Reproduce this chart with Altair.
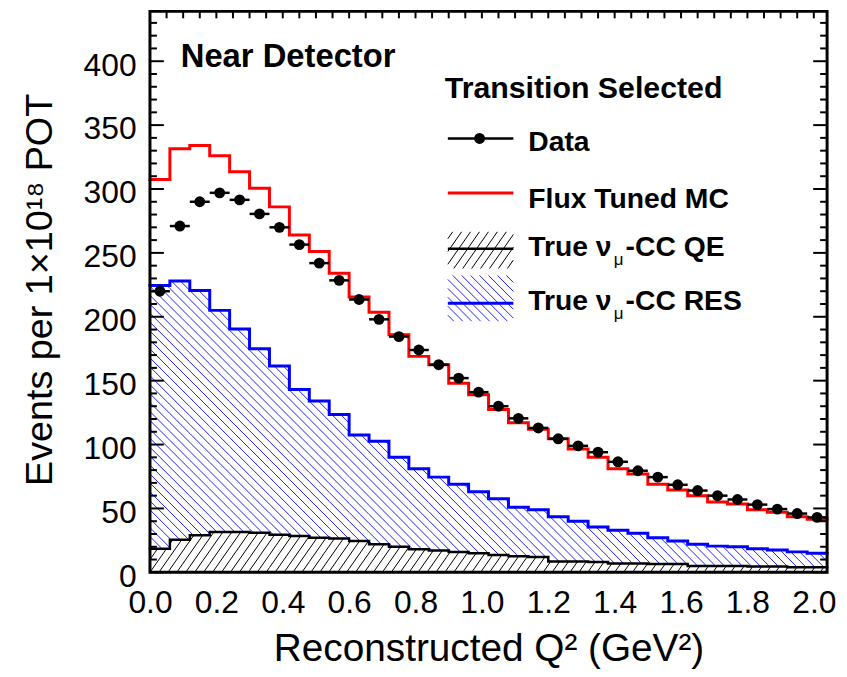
import altair as alt
import numpy as np
import pandas as pd

# ---------------- data ----------------
bin_low = [round(0.06 * i, 2) for i in range(34)]
BIN_W = 0.06
X_MAX = 2.04
Y_MAX = 439

data_counts = [220, 271, 290, 297, 291.5, 280.5, 270, 256.5, 242, 228.5, 213.5, 198,
               184.5, 174, 162.5, 152, 141, 130, 120.5, 113, 104.5, 99, 94, 86.5,
               79.5, 74.5, 68.5, 64, 60, 57, 53, 49.5, 46, 43]
mc_counts = [307.5, 331.5, 334, 326, 313.5, 300.5, 286, 264, 251, 234, 215.5, 203.5,
             186, 169, 162.5, 148, 139, 127.5, 117, 112, 104.5, 96.5, 90, 81,
             77, 69, 64.5, 60, 55, 53.5, 49, 47, 43.5, 41.5]
res_counts = [224.5, 228, 220.5, 205, 190.5, 175, 161.5, 143, 134, 123.5, 107.5, 102.5,
              90, 81, 74.5, 69, 63, 57.5, 51, 49, 43.5, 40, 35.5, 33,
              30.5, 27, 24.5, 22, 20.5, 20, 18.5, 17.5, 16, 15]
qe_counts = [18.5, 25.5, 29, 31.5, 31.5, 31, 29.5, 28.5, 27, 26.5, 24.5, 22,
             20, 18, 17, 16, 15, 13.5, 12.5, 12, 8.5, 8.5, 8, 7,
             7, 6.5, 6.5, 5, 5, 5, 4.5, 4.5, 4, 4]

x_tick_labels = [0.0, 0.2, 0.4, 0.6, 0.8, 1.0, 1.2, 1.4, 1.6, 1.8, 2.0]
y_tick_labels = [0, 50, 100, 150, 200, 250, 300, 350, 400]
x_minor = [round(0.05 * i, 2) for i in range(41)]
y_minor = list(range(0, 440, 10))

legend_header = "Transition Selected"
panel_label = "Near Detector"

# ---------------- layout ----------------
W, H = 682, 565
KX = W / X_MAX
KY = H / Y_MAX
FONT = "Liberation Sans"

edges = bin_low + [X_MAX]

xs = alt.Scale(domain=[0, X_MAX], nice=False, zero=False)
ys = alt.Scale(domain=[0, Y_MAX], nice=False)

X_AX = alt.Axis(values=x_tick_labels, format=".1f", ticks=False, tickSize=0, domain=False,
                grid=False, labelFontSize=32, labelFont=FONT, labelColor="black",
                labelPadding=15, labelFlush=False, labelOverlap=False,
                title="Reconstructed Q² (GeV²)", titleFont=FONT, titleFontSize=39,
                titleFontWeight="normal", titleColor="black", titleX=W / 2, titleY=89,
                titleAlign="center", titleBaseline="alphabetic")
Y_AX = alt.Axis(values=y_tick_labels, format="d", ticks=False, tickSize=0, domain=False,
                grid=False, labelFontSize=32, labelFont=FONT, labelColor="black",
                labelPadding=14, labelOffset=4, labelFlush=False, labelOverlap=False,
                title="Events per 1×10¹⁸ POT", titleFont=FONT, titleFontSize=38,
                titleFontWeight="normal", titleColor="black", titleX=-99, titleY=280,
                titleAngle=270, titleAlign="center", titleBaseline="alphabetic")


def X(field):
    return alt.X(field, type="quantitative", scale=xs, axis=X_AX)


def Y(field):
    return alt.Y(field, type="quantitative", scale=ys, axis=Y_AX)


def steps(vals):
    return pd.DataFrame({"x": edges, "y": list(vals) + [vals[-1]]})


def hatch_segments(lefts, rights, heights, spacing, angle, slope_sign):
    s = slope_sign * np.tan(np.radians(angle))
    vmax = max(heights)
    u_start = min(lefts) - vmax / abs(s) - spacing
    u_end = max(rights) + vmax / abs(s) + spacing
    u0s = np.arange(np.floor(u_start / spacing) * spacing, u_end, spacing)
    segs = []
    for ua, ub, vh in zip(lefts, rights, heights):
        for u0 in u0s:
            if s > 0:
                lo, hi = u0, u0 + vh / s
            else:
                lo, hi = u0 + vh / s, u0
            a, b = max(lo, ua), min(hi, ub)
            if b - a > 1e-9:
                segs.append((a, s * (a - u0), b, s * (b - u0)))
    return segs


def hist_hatch(vals, spacing, angle, sign):
    lefts = [e * KX for e in edges[:-1]]
    rights = [e * KX for e in edges[1:]]
    heights = [v * KY for v in vals]
    segs = hatch_segments(lefts, rights, heights, spacing, angle, sign)
    return pd.DataFrame([{"x": a / KX, "y": va / KY, "x2": b / KX, "y2": vb / KY}
                         for a, va, b, vb in segs])


def box_hatch(x0, x1, ytop, ybot, spacing, angle, sign):
    segs = hatch_segments([x0], [x1], [ybot - ytop], spacing, angle, sign)
    rows = []
    for a, va, b, vb in segs:
        rows.append({"x": a / KX, "y": (H - (ybot - va)) / KY,
                     "x2": b / KX, "y2": (H - (ybot - vb)) / KY})
    return pd.DataFrame(rows)


def rules(df, color, width=1):
    return alt.Chart(df).mark_rule(color=color, strokeWidth=width).encode(
        x=X("x"), y=Y("y"), x2="x2:Q", y2="y2:Q")


def step_line(vals, color, width):
    return alt.Chart(steps(vals)).mark_line(
        interpolate="step-after", color=color, strokeWidth=width,
        strokeJoin="miter", strokeCap="square").encode(x=X("x"), y=Y("y"))


one = pd.DataFrame({"k": [0]})

# ---------------- histogram layers ----------------
res_hatch = rules(hist_hatch(res_counts, 9, 45, -1), "#2020ff", 1)
res_line = step_line(res_counts, "#0000ff", 3)
qe_white = alt.Chart(steps(qe_counts)).mark_area(
    interpolate="step-after", color="white", opacity=1).encode(
    x=X("x"), y=Y("y"), y2=alt.datum(0))
qe_hatch = rules(hist_hatch(qe_counts, 9, 55, 1), "black", 1)
qe_line = step_line(qe_counts, "black", 2.5)
mc_line = step_line(mc_counts, "#ff0000", 3)

pts = pd.DataFrame({"lo": bin_low,
                    "hi": [round(b + BIN_W, 2) for b in bin_low],
                    "xc": [round(b + BIN_W / 2, 3) for b in bin_low],
                    "y": data_counts})
err = alt.Chart(pts).mark_rule(color="black", strokeWidth=2.5).encode(
    x=X("lo"), x2="hi:Q", y=Y("y"))
dots = alt.Chart(pts).mark_circle(color="black", size=120, opacity=1).encode(
    x=X("xc"), y=Y("y"))

# ---------------- ticks (ROOT style, inside the frame) ----------------
ymaj = pd.DataFrame({"v": y_tick_labels})
ymin = pd.DataFrame({"v": [v for v in y_minor if v not in y_tick_labels]})
xmin = pd.DataFrame({"v": x_minor})
tick_layers = [
    alt.Chart(ymaj).mark_rule(color="black", strokeWidth=2).encode(
        y=Y("v"), x=alt.value(0), x2=alt.value(14)),
    alt.Chart(ymin).mark_rule(color="black", strokeWidth=2).encode(
        y=Y("v"), x=alt.value(0), x2=alt.value(7)),
    alt.Chart(ymaj).mark_rule(color="black", strokeWidth=2).encode(
        y=Y("v"), x=alt.value(W), x2=alt.value(W - 14)),
    alt.Chart(ymin).mark_rule(color="black", strokeWidth=2).encode(
        y=Y("v"), x=alt.value(W), x2=alt.value(W - 7)),
    alt.Chart(xmin).mark_rule(color="black", strokeWidth=2).encode(
        x=X("v"), y=alt.value(0), y2=alt.value(7)),
]

frame = alt.Chart(one).mark_rect(filled=False, stroke="black", strokeWidth=3).encode(
    x=alt.value(0), x2=alt.value(W), y=alt.value(0), y2=alt.value(H))

# ---------------- legend (drawn by hand, as in ROOT) ----------------
LX0, LX1 = 300, 366
TX = 381
LS = 28.5


def txt(s, x, y, size=LS, weight="bold", align="left"):
    return alt.Chart(one).mark_text(text=s, font=FONT, fontSize=size, fontWeight=weight,
                                    align=align, baseline="alphabetic", color="black").encode(
        x=alt.value(x), y=alt.value(y))


def hline(x0, x1, y, color, width):
    return alt.Chart(one).mark_rule(color=color, strokeWidth=width).encode(
        x=alt.value(x0), x2=alt.value(x1), y=alt.value(y))


legend_layers = [
    txt(panel_label, 31, 56, size=33),
    txt(legend_header, 297, 87, size=30.5),
    hline(LX0, LX1, 128, "black", 2.5),
    alt.Chart(one).mark_circle(color="black", size=120, opacity=1).encode(
        x=alt.value(332), y=alt.value(128)),
    txt("Data", TX, 141),
    hline(LX0, LX1, 183, "#ff0000", 3),
    txt("Flux Tuned MC", TX, 198),
    rules(box_hatch(LX0, LX1, 222, 259, 9, 55, 1), "black", 1),
    hline(LX0, LX1, 239, "black", 2.5),
    txt("True ν", TX, 246),
    txt("μ", 467, 255, size=17, weight="normal"),
    txt("-CC QE", 479, 246),
    rules(box_hatch(LX0, LX1, 266, 312, 9, 45, -1), "#2020ff", 1),
    hline(LX0, LX1, 294, "#0000ff", 3),
    txt("True ν", TX, 301),
    txt("μ", 467, 310, size=17, weight="normal"),
    txt("-CC RES", 479, 301),
]

chart = alt.layer(
    res_hatch, res_line, qe_white, qe_hatch, qe_line, mc_line, err, dots,
    *tick_layers, frame, *legend_layers
).properties(
    width=W, height=H,
    autosize=alt.AutoSizeParams(type="none"),
    padding={"left": 143, "top": 1, "right": 12, "bottom": 100},
).configure_view(stroke=None).configure(background="white")

chart.save("out.html", embed_options={"renderer": "svg", "actions": False})
